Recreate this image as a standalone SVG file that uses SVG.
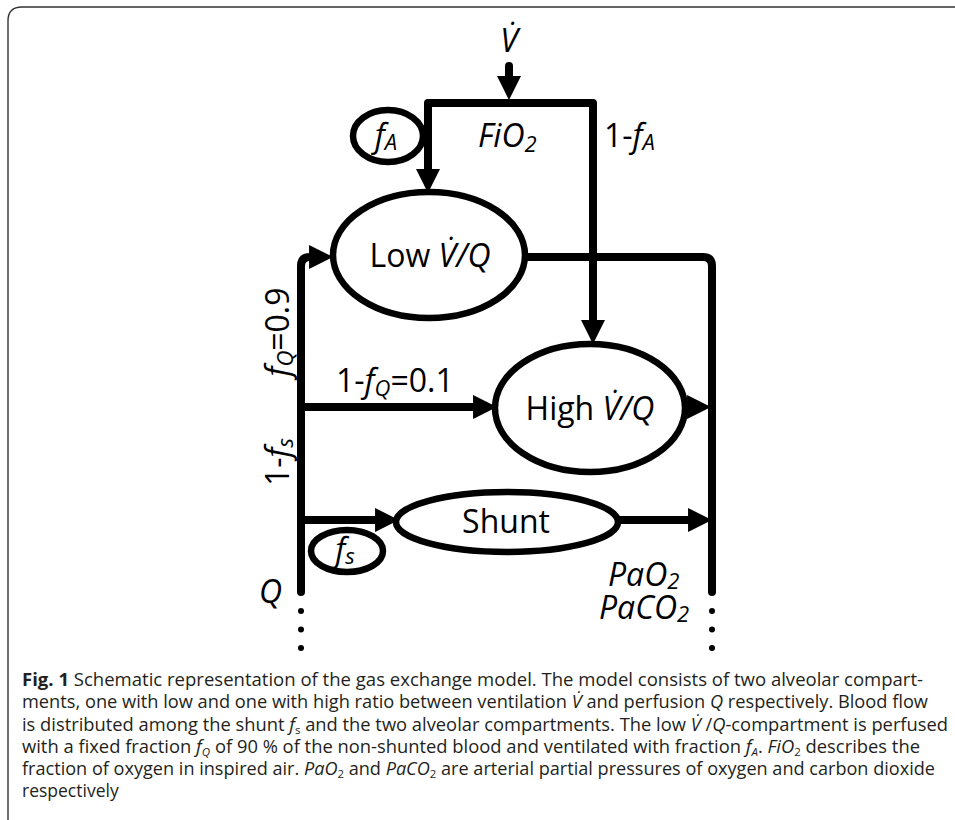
<svg xmlns="http://www.w3.org/2000/svg" width="955" height="820" viewBox="0 0 955 820">
<defs>
<marker id="ah" markerUnits="userSpaceOnUse" markerWidth="24" markerHeight="24" refX="10" refY="11" orient="auto" viewBox="0 0 22 22">
<path d="M0,0 L22,11 L0,22 z" fill="#000"/>
</marker>
</defs>
<style>
.ln{fill:none;stroke:#000;stroke-width:8;stroke-linejoin:round;stroke-linecap:round}
.ar{fill:none;stroke:#000;stroke-width:8;stroke-linecap:butt;marker-end:url(#ah)}
.el{fill:#fff;stroke:#000;stroke-width:6.5}
.t{font-family:"Open Sans","DejaVu Sans",sans-serif;font-size:32px;fill:#000}
.i{font-style:italic}
.cap{font-family:"Open Sans","Liberation Sans",sans-serif;font-size:17.5px;fill:#231f20}
.fr{fill:none;stroke:#333;stroke-width:1.4}
</style>
<path class="fr" d="M8,820 L8,21 Q8,7 22,7 L955,7"/>
<g id="connectors">
<path class="ar" d="M509,66 L509,87"/>
<path d="M509,66 L509,80" class="ln"/>
<path class="ar" d="M593,257 L593,331"/>
<path class="ln" d="M428,150 L428,103 L593,103 L593,260"/>
<path class="ar" d="M428,140 L428,180"/>
<path class="ln" d="M301,592 L301,266 Q301,257 310,257 L316,257"/>
<path class="ar" d="M312,257 L320,257"/>
<path class="ar" d="M301,407 L484,407"/>
<path class="ar" d="M301,520 L386,520"/>
<path class="ln" d="M520,257 L703,257 Q712,257 712,266 L712,592"/>
<path class="ar" d="M683,407 L698,407"/>
<path class="ar" d="M615,520 L699,520"/>
<g fill="#000">
<circle cx="301" cy="611" r="3"/><circle cx="301" cy="629.5" r="3"/><circle cx="301" cy="648" r="3"/>
<circle cx="712" cy="611" r="3"/><circle cx="712" cy="629.5" r="3"/><circle cx="712" cy="648" r="3"/>
</g>
</g>
<g id="n-vdot"><text class="t i" x="509" y="52" text-anchor="middle" font-size="30">V̇</text></g>
<g id="n-fio2"><text class="t i" x="478" y="147">FiO<tspan font-size="22" dy="5">2</tspan></text></g>
<g id="n-1fa"><text class="t" x="604" y="147">1-<tspan class="i">f</tspan><tspan class="i" font-size="22" dy="3">A</tspan></text></g>
<g id="n-fa"><ellipse class="el" cx="388" cy="136" rx="35" ry="26"/><text class="t i" x="386" y="147" text-anchor="middle">f<tspan font-size="22" dy="3">A</tspan></text></g>
<g id="n-low"><ellipse class="el" cx="429" cy="255" rx="96" ry="63"/><text class="t" x="430" y="267" text-anchor="middle">Low <tspan class="i">V̇/Q</tspan></text></g>
<g id="n-high"><ellipse class="el" cx="590" cy="408" rx="95" ry="64"/><text class="t" x="590" y="420" text-anchor="middle">High <tspan class="i">V̇/Q</tspan></text></g>
<g id="n-shunt"><ellipse class="el" cx="507" cy="522" rx="111" ry="30"/><text class="t" x="506" y="533" text-anchor="middle">Shunt</text></g>
<g id="n-fs"><ellipse class="el" cx="347" cy="551" rx="36" ry="21"/><text class="t i" x="345" y="561" text-anchor="middle">f<tspan font-size="22" dy="3">s</tspan></text></g>
<g id="labels">
<text class="t" transform="translate(289,332) rotate(-90)" text-anchor="middle"><tspan class="i">f</tspan><tspan class="i" font-size="22" dy="4">Q</tspan><tspan dy="-4">=0.9</tspan></text>
<text class="t" transform="translate(289,462) rotate(-90)" text-anchor="middle">1-<tspan class="i">f</tspan><tspan class="i" font-size="22" dy="4">s</tspan></text>
<text class="t" x="336" y="392">1-<tspan class="i">f</tspan><tspan class="i" font-size="22" dy="4">Q</tspan><tspan dy="-4">=0.1</tspan></text>
<text class="t i" x="259" y="603">Q</text>
<text class="t i" x="608" y="586">PaO<tspan font-size="22" dy="3">2</tspan></text>
<text class="t i" x="599" y="619">PaCO<tspan font-size="22" dy="3">2</tspan></text>
</g>
<g id="caption">
<text class="cap" x="22" y="686" textLength="901" lengthAdjust="spacingAndGlyphs"><tspan font-weight="bold">Fig. 1</tspan>  Schematic representation of the gas exchange model. The model consists of two alveolar compart-</text>
<text class="cap" x="22" y="708" textLength="906" lengthAdjust="spacingAndGlyphs">ments, one with low and one with high ratio between ventilation <tspan font-style="italic">V̇</tspan> and perfusion <tspan font-style="italic">Q</tspan> respectively. Blood flow</text>
<text class="cap" x="22" y="731" textLength="926" lengthAdjust="spacingAndGlyphs">is distributed among the shunt <tspan font-style="italic">f</tspan><tspan font-size="11" dy="3">s</tspan><tspan dy="-3"> and the two alveolar compartments. The low </tspan><tspan font-style="italic">V̇</tspan> /<tspan font-style="italic">Q</tspan>-compartment is perfused</text>
<text class="cap" x="22" y="753" textLength="898" lengthAdjust="spacingAndGlyphs">with a fixed fraction <tspan font-style="italic">f</tspan><tspan font-size="11" dy="3" font-style="italic">Q</tspan><tspan dy="-3"> of 90 % of the non-shunted blood and ventilated with fraction </tspan><tspan font-style="italic">f</tspan><tspan font-size="11" dy="3" font-style="italic">A</tspan><tspan dy="-3">. </tspan><tspan font-style="italic">FiO</tspan><tspan font-size="11" dy="3">2</tspan><tspan dy="-3"> describes the</tspan></text>
<text class="cap" x="22" y="775" textLength="913" lengthAdjust="spacingAndGlyphs">fraction of oxygen in inspired air. <tspan font-style="italic">PaO</tspan><tspan font-size="11" dy="3">2</tspan><tspan dy="-3"> and </tspan><tspan font-style="italic">PaCO</tspan><tspan font-size="11" dy="3">2</tspan><tspan dy="-3"> are arterial partial pressures of oxygen and carbon dioxide</tspan></text>
<text class="cap" x="22" y="797">respectively</text>
</g>
</svg>
